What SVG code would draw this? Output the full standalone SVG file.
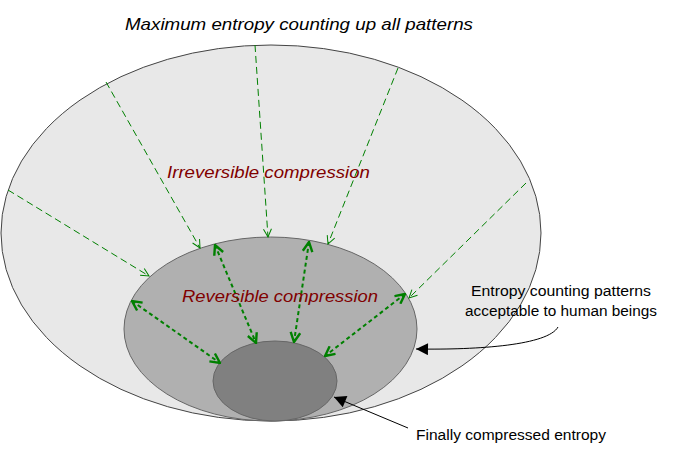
<svg xmlns="http://www.w3.org/2000/svg" width="677" height="453" viewBox="0 0 677 453">
<style>
.t{font-family:"Liberation Sans","Noto Sans CJK JP",sans-serif;}
.ti{font-family:"Liberation Sans","Noto Sans CJK JP",sans-serif;font-style:italic;font-size:17px;}
.red{fill:#800000;}
.thin{stroke:#008000;stroke-width:1;stroke-dasharray:7,4;fill:none;}
.thick{stroke:#008000;stroke-width:2;stroke-dasharray:4,3;fill:none;}
.call{stroke:#000;stroke-width:1;fill:none;}
</style>
<defs>
<marker id="vo" viewBox="0 0 10 10" refX="9" refY="5" markerWidth="10" markerHeight="10" markerUnits="userSpaceOnUse" orient="auto">
<path d="M1,1 L9,5 L1,9" fill="none" stroke="#008000" stroke-width="1"/>
</marker>
<marker id="vt" viewBox="0 0 10 10" refX="9" refY="5" markerWidth="12" markerHeight="12" markerUnits="userSpaceOnUse" orient="auto-start-reverse">
<path d="M1,1 L9,5 L1,9" fill="none" stroke="#008000" stroke-width="2"/>
</marker>
<marker id="blk" viewBox="0 0 10 10" refX="10" refY="5" markerWidth="16" markerHeight="12" markerUnits="userSpaceOnUse" orient="auto">
<path d="M0,0 L10,5 L0,10 Z" fill="#000"/>
</marker>
</defs>
<g id="outer">
<ellipse cx="271" cy="233" rx="270" ry="188" fill="#e8e8e8" stroke="#444" stroke-width="1"/>
</g>
<g id="middle">
<ellipse cx="270.5" cy="329" rx="146.5" ry="92" fill="#b0b0b0" stroke="#666" stroke-width="1"/>
</g>
<g id="inner">
<ellipse cx="275" cy="381" rx="62" ry="40" fill="#808080" stroke="#666" stroke-width="1"/>
</g>
<g id="connectors">
<line class="thin" x1="8" y1="190" x2="149" y2="276" marker-end="url(#vo)"/>
<line class="thin" x1="106" y1="82" x2="200" y2="248" marker-end="url(#vo)"/>
<line class="thin" x1="255" y1="45" x2="268" y2="237" marker-end="url(#vo)"/>
<line class="thin" x1="398" y1="68" x2="328" y2="244" marker-end="url(#vo)"/>
<line class="thin" x1="526" y1="183" x2="409" y2="298" marker-end="url(#vo)"/>
<line class="thick" x1="132" y1="301" x2="220" y2="363" marker-start="url(#vt)" marker-end="url(#vt)"/>
<line class="thick" x1="215" y1="245" x2="256" y2="343" marker-start="url(#vt)" marker-end="url(#vt)"/>
<line class="thick" x1="309" y1="242" x2="294" y2="342" marker-start="url(#vt)" marker-end="url(#vt)"/>
<line class="thick" x1="405" y1="294" x2="325" y2="356" marker-start="url(#vt)" marker-end="url(#vt)"/>
<path class="call" d="M558,327 C548,345 480,350 416,349" marker-end="url(#blk)"/>
<path class="call" d="M408,428 L334,397" marker-end="url(#blk)"/>
</g>
<g id="labels">
<text class="ti" x="125" y="30" textLength="348" lengthAdjust="spacingAndGlyphs">Maximum entropy counting up all patterns</text>
<text class="ti red" x="167" y="178" textLength="203" lengthAdjust="spacingAndGlyphs">Irreversible compression</text>
<text class="ti red" x="182" y="302" textLength="196" lengthAdjust="spacingAndGlyphs">Reversible compression</text>
<text class="t" x="471" y="296" font-size="14" textLength="180" lengthAdjust="spacingAndGlyphs">Entropy counting patterns</text>
<text class="t" x="465" y="316" font-size="14" textLength="192" lengthAdjust="spacingAndGlyphs">acceptable to human beings</text>
<text class="t" x="416" y="440" font-size="14" textLength="190" lengthAdjust="spacingAndGlyphs">Finally compressed entropy</text>
</g>
</svg>
